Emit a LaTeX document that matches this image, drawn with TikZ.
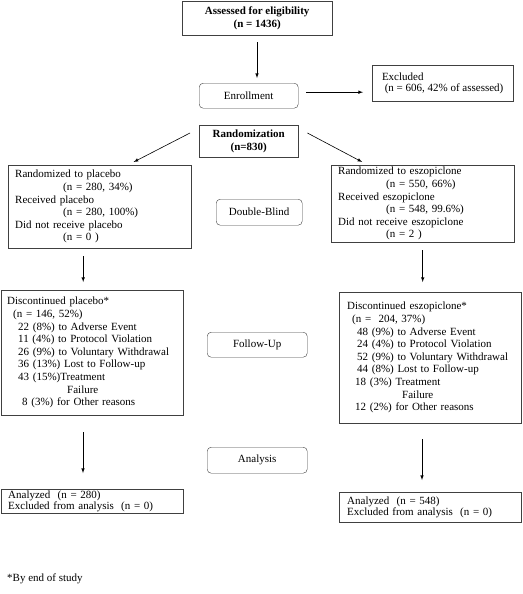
\documentclass[tikz,border=0pt]{standalone}
\usepackage{fontspec}
\setmainfont{Liberation Serif}
\usetikzlibrary{calc,arrows,positioning}
\tikzset{
	box/.style={
		draw=black!75, rectangle, anchor=north west,
		inner ysep=2pt, align=left, text=black,
		font=\fontsize{11}{12.6}\selectfont
	},
	smallbox/.style={
		box, inner ysep=0pt,
		font=\fontsize{11}{11.2}\selectfont
	},
	stage/.style={
		draw=black!75, rectangle, rounded corners=4pt,
		anchor=north west, inner sep=0pt, text=black,
		font=\fontsize{11}{12.6}\selectfont
	},
	flow_arrow/.style={-latex, semithick}
}

\begin{document}
\begin{tikzpicture}[x=1pt,y=-1pt]
				\useasboundingbox (0,0) rectangle (522,594);
				\node[box, align=center, minimum width=150pt, minimum height=34pt, font=\fontsize{11}{12.6}\selectfont\bfseries] (assess) at (182,1) {Assessed for eligibility\\(n = 1436)};
				\node[stage, minimum width=99pt, minimum height=25pt] (enroll) at (199,83) {Enrollment};
				\node[smallbox, minimum width=141pt, minimum height=36pt] (excl) at (372,65) {Excluded\\\ (n = 606, 42\% of assessed)};
				\node[box, align=center, minimum width=99pt, minimum height=32pt, font=\fontsize{11}{12.6}\selectfont\bfseries] (rand) at (199,125) {Randomization\\(n=830)};
				\node[box, inner xsep=7pt, text width=169pt, minimum height=83pt] (plac) at (8,165) {Randomized to placebo\\\hspace*{48pt}(n = 280, 34\%)\\Received placebo\\\hspace*{48pt}(n = 280, 100\%)\\Did not receive placebo\\\hspace*{48pt}(n = 0\ )};
				\node[box, inner xsep=7pt, text width=169pt, minimum height=74pt] (eszo) at (331,165) {Randomized to eszopiclone\\\hspace*{48pt}(n = 550, 66\%)\\Received eszopiclone\\\hspace*{48pt}(n = 548, 99.6\%)\\Did not receive eszopiclone\\\hspace*{48pt}(n = 2\ )};
				\node[stage, minimum width=86pt, minimum height=26pt] (blind) at (216,199) {Double-Blind};
				\node[box, inner xsep=6pt, text width=170pt, minimum height=125pt] (dplac) at (1,290) {Discontinued placebo*\\\hspace*{6pt}(n = 146, 52\%)\\\hspace*{11pt}22 (8\%) to Adverse Event\\\hspace*{11pt}11 (4\%) to Protocol Violation\\\hspace*{11pt}26 (9\%) to Voluntary Withdrawal\\\hspace*{11pt}36 (13\%) Lost to Follow-up\\\hspace*{11pt}43 (15\%)Treatment\\\hspace*{60pt}Failure\\\hspace*{15pt}8 (3\%) for Other reasons};
				\node[box, inner xsep=8pt, text width=166pt, minimum height=131pt] (deszo) at (339,292) {Discontinued eszopiclone*\\\hspace*{5pt}(n =\ \ 204, 37\%)\\\hspace*{10pt}48 (9\%) to Adverse Event\\\hspace*{10pt}24 (4\%) to Protocol Violation\\\hspace*{10pt}52 (9\%) to Voluntary Withdrawal\\\hspace*{10pt}44 (8\%) Lost to Follow-up\\\hspace*{8pt}18 (3\%) Treatment\\\hspace*{55pt}Failure\\\hspace*{8pt}12 (2\%) for Other reasons};
				\node[stage, minimum width=100pt, minimum height=25pt] (follow) at (207,332) {Follow-Up};
				\node[stage, minimum width=100pt, minimum height=26pt] (analysis) at (207,447) {Analysis};
				\node[smallbox, inner xsep=7pt, text width=168pt, minimum height=24pt] (aplac) at (1,489) {Analyzed\ \ (n = 280)\\Excluded from analysis\ \ (n = 0)};
				\node[smallbox, inner xsep=8pt, text width=166pt, minimum height=30pt] (aeszo) at (339,492) {Analyzed\ \ (n = 548)\\Excluded from analysis\ \ (n = 0)};
				\node[anchor=west, inner sep=0pt, font=\fontsize{11}{12.6}\selectfont] (note) at (7,579) {*By end of study};
				% arrows
				\draw[flow_arrow, shorten <=7pt, shorten >=5pt] (assess.south -| 257,0) -- (enroll.north -| 257,0);
				\draw[flow_arrow, shorten <=8pt, shorten >=9pt] ([yshift=3.5pt]enroll.east) -- ([yshift=3.5pt]enroll.east -| excl.west);
				\draw[flow_arrow] ($(rand.north west)+(-9,8)$) -- ($(plac.north)+(34,-3)$);
				\draw[flow_arrow] ($(rand.north east)+(9,8)$) -- ($(eszo.north)+(-60.5,-3)$);
				\draw[flow_arrow, shorten <=8pt, shorten >=8pt] ([xshift=-16.5pt]plac.south) -- ([xshift=-16.5pt]plac.south |- dplac.north);
				\draw[flow_arrow, shorten <=8pt, shorten >=10pt] (eszo.south) -- (eszo.south |- deszo.north);
				\draw[flow_arrow, shorten <=17pt, shorten >=16pt] (dplac.south -| 83,0) -- (aplac.north -| 83,0);
				\draw[flow_arrow, shorten <=16pt, shorten >=12pt] (deszo.south -| 422,0) -- (aeszo.north -| 422,0);
			\end{tikzpicture}
\end{document}
